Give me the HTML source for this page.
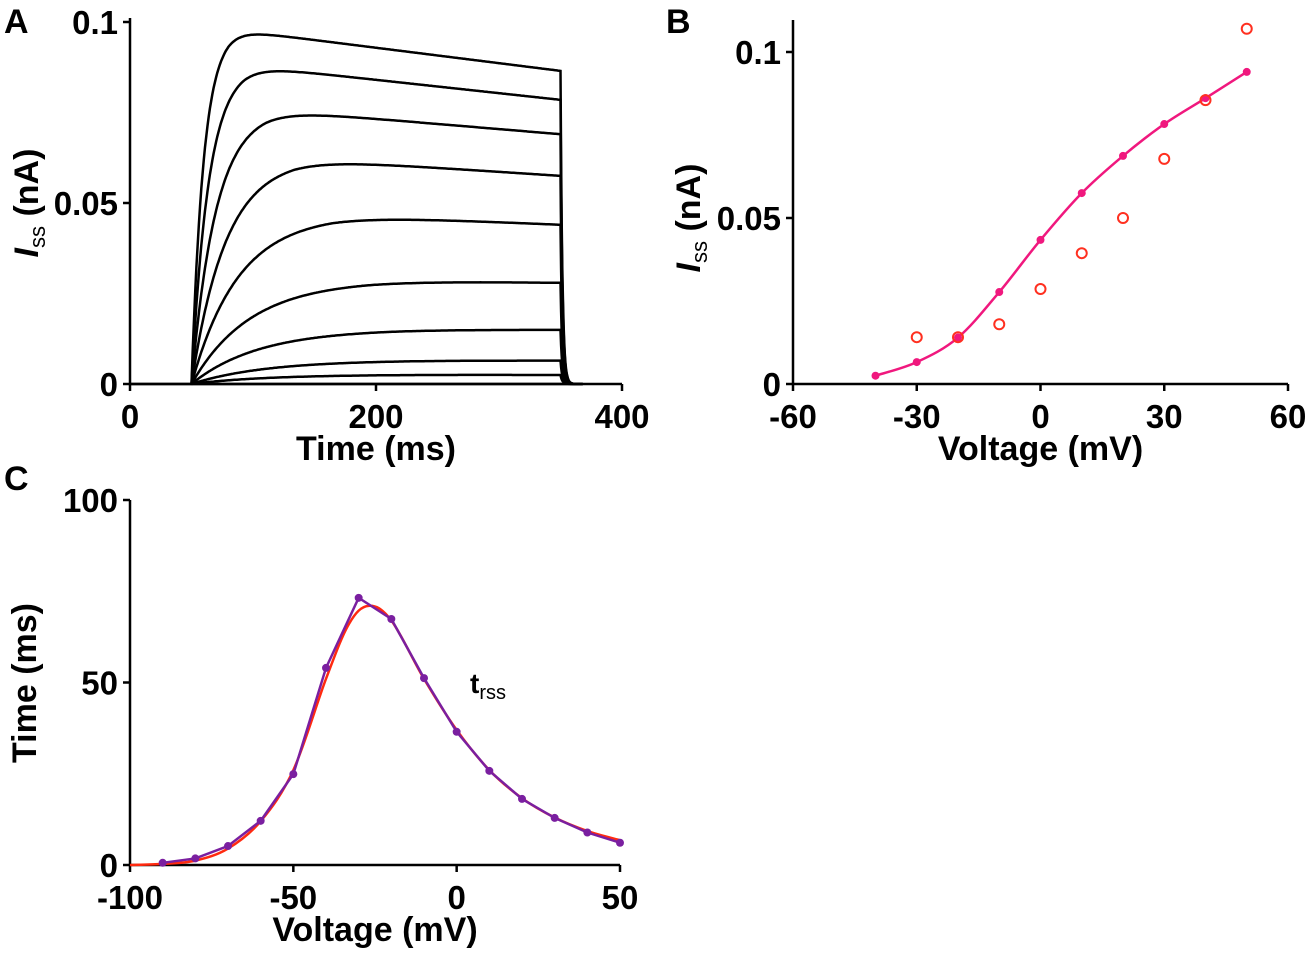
<!DOCTYPE html>
<html><head><meta charset="utf-8"><style>
html,body{margin:0;padding:0;background:#fff;}
svg{display:block;font-family:"Liberation Sans",sans-serif;font-weight:bold;}
</style></head><body>
<svg id="fig" width="1306" height="956" viewBox="0 0 1306 956"></svg>
<script>
// Panel A data
const traceTimes=[50,350];
const peakCurrent=[0.098,0.088,0.0758,0.0623,0.0467,0.0287,0.0152,0.0066,0.0026];
const endCurrent=[0.0865,0.0785,0.069,0.0575,0.044,0.028,0.015,0.0065,0.0025];
const riseTau=[10,14,20,28,38,48,55,60,60];
const aXTicks=[0,200,400];
const aYTicks=[0,0.05,0.1];
const aYTickLabels=["0","0.05","0.1"];
// Panel B data
const bVolt=[-40,-30,-20,-10,0,10,20,30,40,50];
const bFilled=[0.0025,0.0066,0.014,0.0277,0.0434,0.0575,0.0687,0.0783,0.0861,0.094];
const bOpenVolt=[-30,-20,-10,0,10,20,30,40,50];
const bOpen=[0.0141,0.0141,0.018,0.0286,0.0394,0.05,0.0678,0.0855,0.107];
const bXTicks=[-60,-30,0,30,60];
const bYTicks=[0,0.05,0.1];
const bYTickLabels=["0","0.05","0.1"];
// Panel C data
const cVolt=[-90,-80,-70,-60,-50,-40,-30,-20,-10,0,10,20,30,40,50];
const cTime=[0.6,1.8,5.2,12.1,24.9,54,73.2,67.4,51.2,36.5,25.8,18.1,12.9,8.9,6.1];
const cFitVolt=[-100,-90,-80,-70,-60,-50,-40,-33,-27,-20,-10,0,10,20,30,40,50];
const cFitTime=[0,0.3,1.2,4.5,12,26,51,66,71,67,51,37,26,18.3,13,9.3,6.8];
const cXTicks=[-100,-50,0,50];
const cYTicks=[0,50,100];

const svg=document.getElementById('fig');
const NS='http://www.w3.org/2000/svg';
function mk(tag,attrs,parent){const e=document.createElementNS(NS,tag);for(const k in attrs)e.setAttribute(k,attrs[k]);(parent||svg).appendChild(e);return e;}
function lin(d0,d1,r0,r1){return v=>r0+(v-d0)/(d1-d0)*(r1-r0);}
function spline(pts){let d='M'+pts[0][0]+','+pts[0][1];for(let i=0;i<pts.length-1;i++){const p0=pts[Math.max(0,i-1)],p1=pts[i],p2=pts[i+1],p3=pts[Math.min(pts.length-1,i+2)];const c1x=p1[0]+(p2[0]-p0[0])/6,c1y=p1[1]+(p2[1]-p0[1])/6,c2x=p2[0]-(p3[0]-p1[0])/6,c2y=p2[1]-(p3[1]-p1[1])/6;d+=' C'+c1x+','+c1y+' '+c2x+','+c2y+' '+p2[0]+','+p2[1];}return d;}

function axes(g,x,y,xr,yr,xt,xtl,yt,ytl,xtitle){
  const ax=mk('path',{d:`M${xr[0]},${yr[1]} L${xr[0]},${yr[0]} L${xr[1]},${yr[0]}`,stroke:'#000','stroke-width':2.5,fill:'none'},g);
  
  xt.forEach((v,i)=>{const l=mk('line',{x1:x(v),x2:x(v),y1:yr[0],y2:yr[0]+7,stroke:'#000','stroke-width':2.5},g);
    
    const t=mk('text',{x:x(v),y:yr[0]+44,'text-anchor':'middle','font-size':33},g);t.textContent=xtl[i];
    });
  yt.forEach((v,i)=>{const l=mk('line',{x1:xr[0]-7,x2:xr[0],y1:y(v),y2:y(v),stroke:'#000','stroke-width':2.5},g);
    
    const t=mk('text',{x:xr[0]-12,y:y(v)+12,'text-anchor':'end','font-size':33},g);t.textContent=ytl[i];
    });
  const xtt=mk('text',{x:(xr[0]+xr[1])/2,y:yr[0]+76,'text-anchor':'middle','font-size':34},g);xtt.textContent=xtitle;
  
}
function label(txt,x,y){const t=mk('text',{x:x,y:y,'font-size':34});t.textContent=txt;}
function issTitle(g,cx,cy){const t=mk('text',{transform:`translate(${cx},${cy}) rotate(-90)`,'text-anchor':'middle','font-size':34},g);
  
  const a=mk('tspan',{'font-style':'italic'},t);a.textContent='I';const b=mk('tspan',{'font-size':22,dy:7,'font-weight':'normal'},t);b.textContent='ss';const c=mk('tspan',{dy:-7},t);c.textContent=' (nA)';}

// Panel A
const gA=mk('g',{});
const ax=lin(0,400,130,622), ay=lin(0,0.1,384,22);
axes(gA,ax,ay,[130,622],[384,18],aXTicks,aXTicks.map(String),aYTicks,aYTickLabels,'Time (ms)');
issTitle(gA,38,203);
const bl=mk('line',{x1:130,x2:575,y1:384,y2:384,stroke:'#000','stroke-width':2.5},gA);
peakCurrent.forEach((p,i)=>{
  const t0=traceTimes[0],t1=traceTimes[1],tau=riseTau[i],e=endCurrent[i];
  const tp=t0+3*tau, slope=(e-p)/(t1-tp);
  let d='';
  for(let t=t0;t<=t1;t+=1){const env=1-Math.exp(-(t-t0)/tau);const base=t<tp?p:p+slope*(t-tp);d+=(d?' L':'M')+ax(t).toFixed(1)+','+ay(base*env).toFixed(1);}
  const endV=(t1>tp?p+slope*(t1-tp):p)*(1-Math.exp(-(t1-t0)/tau));
  for(let t=t1;t<=368;t+=0.5){d+=' L'+ax(t).toFixed(1)+','+ay(endV*Math.exp(-(t-t1)/1.5)).toFixed(1);}
  const path=mk('path',{d:d,stroke:'#000','stroke-width':2.5,fill:'none'},gA);
  
});
label('A',4,33);

// Panel B
const gB=mk('g',{});
const bx=lin(-60,60,793,1288), by=lin(0,0.1,384,52);
axes(gB,bx,by,[793,1288],[384,20],bXTicks,bXTicks.map(String),bYTicks,bYTickLabels,'Voltage (mV)');
issTitle(gB,700,218);
const bfit=mk('path',{d:spline(bVolt.map((v,i)=>[bx(v),by(bFilled[i])])),stroke:'#f0187e','stroke-width':2.5,fill:'none'},gB);

bVolt.forEach((v,i)=>{const c=mk('circle',{cx:bx(v),cy:by(bFilled[i]),r:4,fill:'#f0187e'},gB);});
bOpenVolt.forEach((v,i)=>{const c=mk('circle',{cx:bx(v),cy:by(bOpen[i]),r:5,fill:'none',stroke:'#ff3020','stroke-width':2},gB);});
label('B',666,33);

// Panel C
const gC=mk('g',{});
const cx=lin(-100,50,130,620), cy=lin(0,100,865,500);
axes(gC,cx,cy,[130,620],[865,500],cXTicks,cXTicks.map(String),cYTicks,cYTicks.map(String),'Voltage (mV)');
const ct=mk('text',{transform:'translate(36,683) rotate(-90)','text-anchor':'middle','font-size':34},gC);ct.textContent='Time (ms)';

const cf=mk('path',{d:spline(cFitVolt.map((v,i)=>[cx(v),cy(cFitTime[i])])),stroke:'#ff2a10','stroke-width':2.5,fill:'none'},gC);

const cl=mk('polyline',{points:cVolt.map((v,i)=>cx(v)+','+cy(cTime[i])).join(' '),stroke:'#7a1fa0','stroke-width':2.5,fill:'none'},gC);

cVolt.forEach((v,i)=>{const c=mk('circle',{cx:cx(v),cy:cy(cTime[i]),r:4,fill:'#7a1fa0'},gC);});
const tl=mk('text',{x:470,y:693,'font-size':28},gC);
const t1=mk('tspan',{},tl);t1.textContent='t';const t2=mk('tspan',{'font-size':20,dy:6,'font-weight':'normal'},tl);t2.textContent='rss';
label('C',4,490);
</script>
</body></html>
